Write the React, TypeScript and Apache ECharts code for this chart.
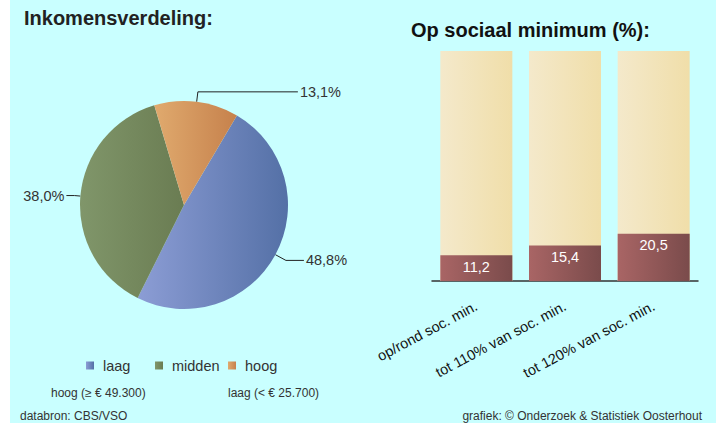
import React, { useEffect, useRef } from "react";
import * as echarts from "echarts";

const pieCategories = ["laag", "midden", "hoog"];
const pieValues = [48.8, 38.0, 13.1];
const barCategories = ["op/rond soc. min.", "tot 110% van soc. min.", "tot 120% van soc. min."];
const barValues = [11.2, 15.4, 20.5];
const barMax = 100;
const incomeNotes = ["hoog (≥ € 49.300)", "laag (< € 25.700)"];
const sourceText = "databron: CBS/VSO";
const creditText = "grafiek: © Onderzoek & Statistiek Oosterhout";

const FONT = "Arial, 'Liberation Sans', sans-serif";

const grad = (a: string, b: string) =>
  new echarts.graphic.LinearGradient(0, 0, 1, 0, [
    { offset: 0, color: a },
    { offset: 1, color: b },
  ]);

const pieGradients = [
  ["#8c9dd5", "#5470a6"],
  ["#80966a", "#6a7c52"],
  ["#e0aa6e", "#c6814c"],
];
const pieLines = [
  { length: 12, length2: 18 },
  { length: 6, length2: 8 },
  { length: 10, length2: 100 },
];
const legendLefts = [86, 155, 228];

const fmt = (v: number) => v.toFixed(1).replace(".", ",");

export default function App() {
  const ref = useRef<HTMLDivElement>(null);
  useEffect(() => {
    if (!ref.current) return;
    const chart = echarts.init(ref.current, undefined, { renderer: "svg" });
    chart.setOption({
      animation: false,
      backgroundColor: "#ffffff",
      textStyle: { fontFamily: FONT },
      title: [
        {
          text: "Inkomensverdeling:",
          left: 24,
          top: 8,
          padding: 0,
          textStyle: { fontSize: 20, fontWeight: "bold", color: "#222", fontFamily: FONT },
        },
        {
          text: "Op sociaal minimum (%):",
          left: 411,
          top: 20,
          padding: 0,
          textStyle: { fontSize: 20, fontWeight: "bold", color: "#111", fontFamily: FONT },
        },
      ],
      legend: pieCategories.map((name, i) => ({
        data: [name],
        left: legendLefts[i],
        top: 358,
        padding: 0,
        selectedMode: false,
        icon: "rect",
        itemWidth: 8,
        itemHeight: 8,
        textStyle: { fontSize: 14.5, color: "#333", fontFamily: FONT, padding: [0, 0, 0, 4] },
      })),
      grid: { left: 432, right: 18, top: 51, bottom: 142 },
      xAxis: {
        type: "category",
        data: barCategories,
        axisLine: { lineStyle: { color: "#333", width: 1.5 } },
        axisTick: { alignWithLabel: true, length: 7, lineStyle: { color: "#333", width: 1.5 } },
        axisLabel: { rotate: 28, interval: 0, fontSize: 14.5, color: "#111", margin: 24, fontFamily: FONT },
      },
      yAxis: { type: "value", min: 0, max: barMax, show: false },
      graphic: [
        { type: "rect", z: -10, silent: true, shape: { x: 10, y: 0, width: 706, height: 423 }, style: { fill: "#c9ffff" } },
        { type: "text", x: 51, y: 393, style: { text: incomeNotes[0], fill: "#333", font: `12px ${FONT}`, verticalAlign: "middle" } },
        { type: "text", x: 228, y: 393, style: { text: incomeNotes[1], fill: "#333", font: `12px ${FONT}`, verticalAlign: "middle" } },
        { type: "text", x: 20, y: 416, style: { text: sourceText, fill: "#333", font: `12px ${FONT}`, verticalAlign: "middle" } },
        { type: "text", x: 702, y: 416, style: { text: creditText, fill: "#333", font: `12px ${FONT}`, align: "right", verticalAlign: "middle" } },
      ],
      series: [
        {
          type: "pie",
          center: [184, 205],
          radius: 104,
          startAngle: 59.4,
          clockwise: true,
          avoidLabelOverlap: false,
          label: {
            show: true,
            position: "outside",
            fontSize: 14.5,
            color: "#333",
            fontFamily: FONT,
            distanceToLabelLine: 2,
            formatter: (p: any) => fmt(p.value) + "%",
          },
          labelLine: { show: true, lineStyle: { color: "#222", width: 1 } },
          emphasis: { disabled: true },
          data: pieCategories.map((name, i) => ({
            name,
            value: pieValues[i],
            itemStyle: { color: grad(pieGradients[i][0], pieGradients[i][1]) },
            labelLine: pieLines[i],
          })),
        },
        {
          type: "bar",
          barWidth: 72,
          showBackground: true,
          backgroundStyle: { color: grad("#f4e9cb", "#f0dea9") },
          itemStyle: { color: grad("#a96565", "#7a4b4b") },
          label: {
            show: true,
            position: "insideTop",
            distance: 4,
            fontSize: 14.5,
            color: "#fff",
            fontFamily: FONT,
            formatter: (p: any) => fmt(p.value),
          },
          emphasis: { disabled: true },
          data: barValues,
        },
      ],
    });
    return () => chart.dispose();
  }, []);
  return (
    <div
      ref={ref}
      style={{ position: "absolute", left: 0, top: 0, width: 716, height: 423 }}
    />
  );
}
